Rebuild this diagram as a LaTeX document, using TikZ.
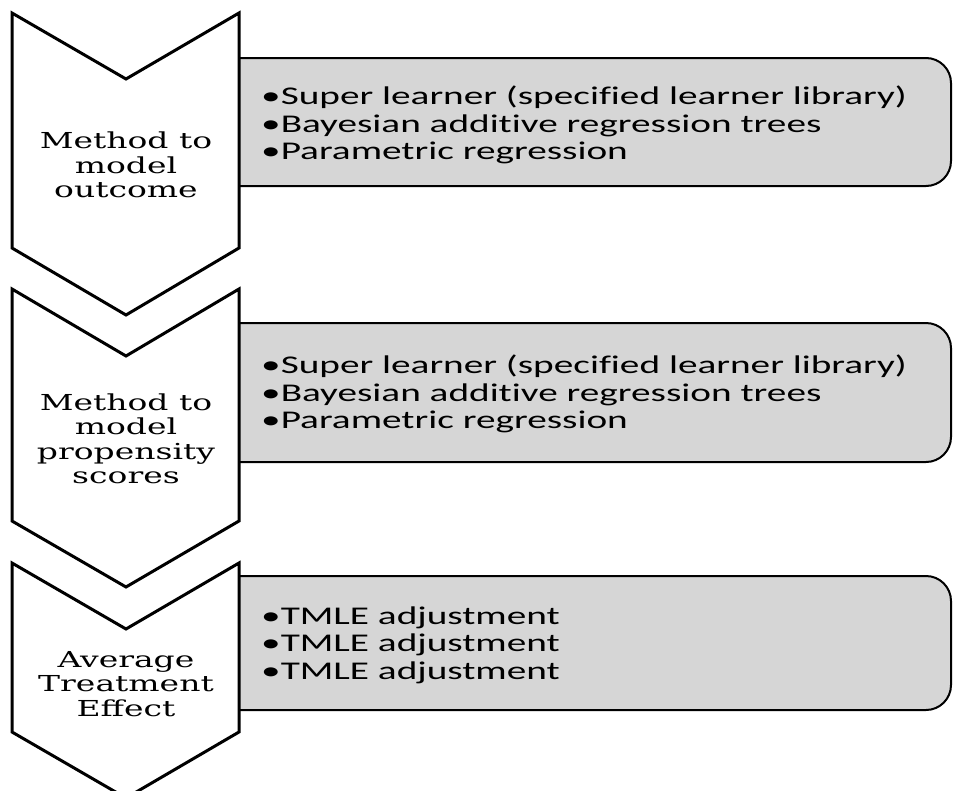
\documentclass[tikz,border=0pt]{standalone}
\usepackage{fontspec}
\newfontfamily\itemfont[FakeStretch=1.54,Ligatures=NoCommon]{Carlito}
\newfontfamily\labelfont[FakeStretch=1.5]{DejaVu Serif}
\definecolor{boxgray}{RGB}{214,214,214}

\begin{document}
\begin{tikzpicture}[x=1pt,y=-1pt,
  chevron/.style={draw=black,fill=white,line width=3pt,line join=miter},
  itembox/.style={draw=black,fill=boxgray,line width=2pt,rounded corners=25pt,minimum width=751pt,inner sep=0pt},
  itemtext/.style={anchor=west,align=left,inner sep=0pt,font=\itemfont\fontsize{25.5}{27.5}\selectfont},
  steplabel/.style={align=center,inner sep=0pt,font=\labelfont\fontsize{22}{24.5}\selectfont}]
\useasboundingbox (0,0) rectangle (953,790);

% item boxes, left ends go under the chevrons
\node [itembox, minimum height=128pt] (box1) at (575.5,122) {};
\node [itembox, minimum height=139pt] (box2) at (575.5,392.5) {};
\node [itembox, minimum height=134pt] (box3) at (575.5,643) {};

% chevrons
\draw [chevron] (12,13) -- (126,79) -- (239,13) -- (239,248) -- (126,315) -- (12,248) -- cycle;
\draw [chevron] (12,289) -- (126,356) -- (239,289) -- (239,521) -- (126,587) -- (12,521) -- cycle;
\draw [chevron] (12,563) -- (126,629) -- (239,563) -- (239,732) -- (126,798) -- (12,732) -- cycle;

\node [steplabel] (label1) at (126,165) {Method to\\model\\outcome};
\node [steplabel] (label2) at (126,439) {Method to\\model\\propensity\\scores};
\node [steplabel] (label3) at (126,684) {Average\\Treatment\\Effect};

\node [itemtext] (items1) at (261,125) {•Super learner (specified learner library)\\•Bayesian additive regression trees\\•Parametric regression};
\node [itemtext] (items2) at (261,394) {•Super learner (specified learner library)\\•Bayesian additive regression trees\\•Parametric regression};
\node [itemtext] (items3) at (261,645) {•TMLE adjustment\\•TMLE adjustment\\•TMLE adjustment};

\end{tikzpicture}
\end{document}
